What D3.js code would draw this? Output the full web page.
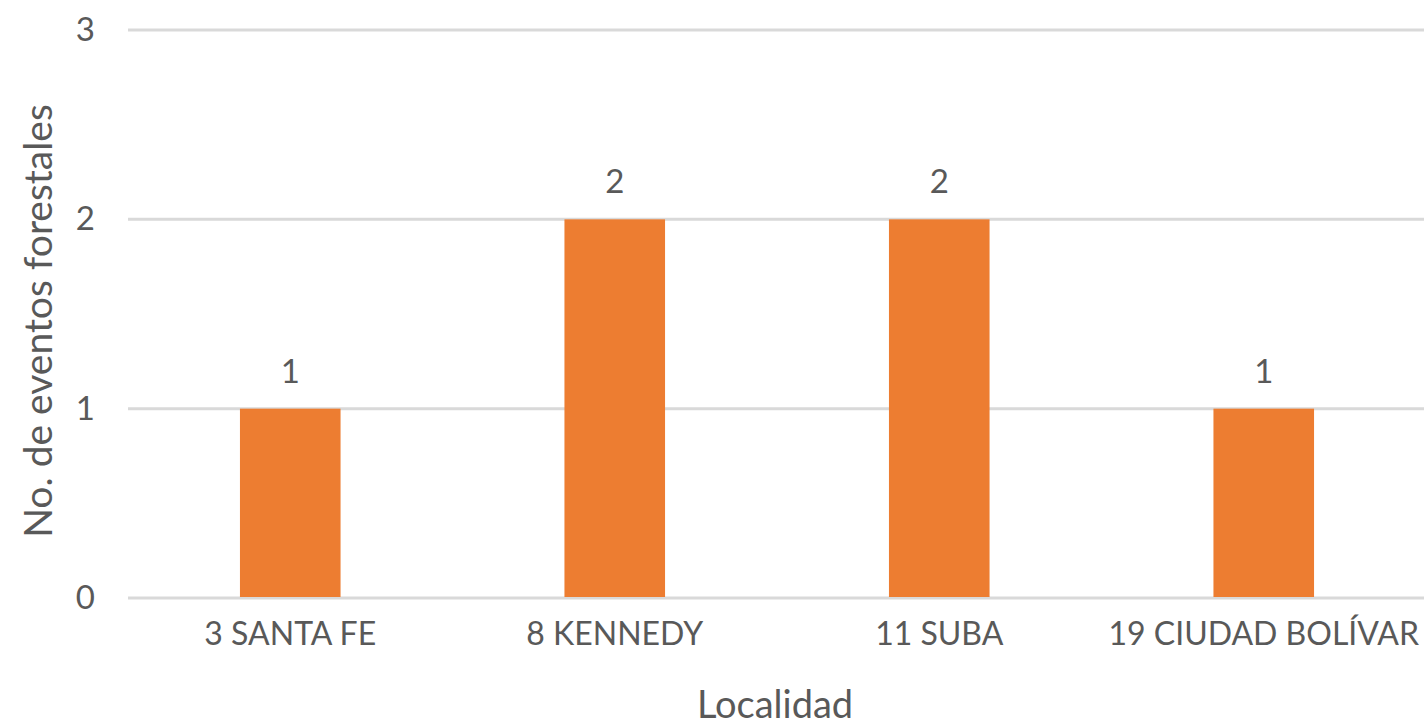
<!DOCTYPE html>
<html>
<head>
<meta charset="utf-8">
<script src="https://cdn.jsdelivr.net/npm/d3@7"></script>
<style>
  body { margin: 0; background: #fff; }
  text { font-family: Lato, "Open Sans", sans-serif; fill: #595959; }
</style>
</head>
<body>
<div id="chart"></div>
<script>
// chart data
let localidades = ["3 SANTA FE", "8 KENNEDY", "11 SUBA", "19 CIUDAD BOLÍVAR"];
let eventos = [1, 2, 2, 1];
let yTicks = [0, 1, 2, 3];

let width = 1426;
let height = 726;
let margin = ({top: 30, right: 0, bottom: 128, left: 128});

let svg = d3.select("#chart")
    .append("svg")
    .attr("width", width)
    .attr("height", height);

let data = localidades.map(function(d, i) { return {name: d, value: eventos[i]}; });

let xScale = d3.scaleBand()
    .domain(localidades)
    .range([margin.left, width - margin.right])
    .paddingInner(0.69)
    .paddingOuter(0.345);

let yScale = d3.scaleLinear()
    .domain([0, 3])
    .range([height - margin.bottom, margin.top]);

// gridlines
svg.append("g")
    .selectAll("line")
    .data(yTicks)
    .enter()
    .append("line")
    .attr("x1", margin.left)
    .attr("x2", width - 2)
    .attr("y1", function(d) { return yScale(d); })
    .attr("y2", function(d) { return yScale(d); })
    .attr("stroke", "#d9d9d9")
    .attr("stroke-width", 3);

// y tick labels
let yAxis = d3.axisLeft(yScale).tickValues(yTicks).tickFormat(d3.format("d")).tickSize(0).tickPadding(0);
let yg = svg.append("g")
    .attr("transform", "translate(95,0)")
    .call(yAxis);
yg.select(".domain").remove();
yg.selectAll("text")
    .style("font-size", "33px")
    .attr("fill", "#595959");

// bars
svg.selectAll(".bar")
    .data(data)
    .enter()
    .append("rect")
    .attr("class", "bar")
    .attr("x", function(d) { return xScale(d.name); })
    .attr("width", xScale.bandwidth())
    .attr("y", function(d) { return yScale(d.value); })
    .attr("height", function(d) { return yScale(0) - yScale(d.value) - 1; })
    .attr("fill", "#ed7d31");

// data labels
svg.selectAll(".label")
    .data(data)
    .enter()
    .append("text")
    .attr("class", "label")
    .attr("x", function(d) { return xScale(d.name) + xScale.bandwidth() / 2; })
    .attr("y", function(d) { return yScale(d.value) - 26; })
    .attr("text-anchor", "middle")
    .style("font-size", "33px")
    .text(function(d) { return d.value; });

// x axis labels
let xAxis = d3.axisBottom(xScale).tickSize(0).tickPadding(0);
let xg = svg.append("g")
    .attr("transform", "translate(0," + (height - margin.bottom + 24) + ")")
    .call(xAxis);
xg.select(".domain").remove();
xg.selectAll("text")
    .style("font-size", "32px")
    .attr("fill", "#595959")
    .attr("dy", "0.71em");

// axis titles
svg.append("text")
    .attr("x", 775)
    .attr("y", 718)
    .attr("text-anchor", "middle")
    .style("font-size", "38px")
    .text("Localidad");

svg.append("text")
    .attr("transform", "translate(52,321) rotate(-90)")
    .attr("text-anchor", "middle")
    .style("font-size", "39px")
    .text("No. de eventos forestales");
</script>
</body>
</html>
